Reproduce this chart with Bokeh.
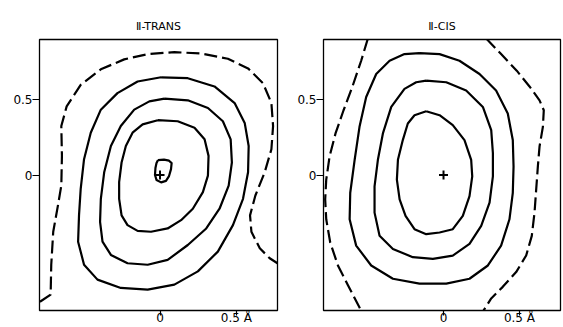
from bokeh.plotting import figure
from bokeh.layouts import row
from bokeh.models import Range1d, FixedTicker
from bokeh.embed import file_html
from bokeh.resources import INLINE

# ---------------- data (in Å) ----------------
panel_titles = ["Ⅱ-TRANS", "Ⅱ-CIS"]
x_ticks = [0, 0.5]
y_ticks = [0, 0.5]
x_tick_labels = {0: "0", 0.5: "0.5 Å"}
y_tick_labels = {0: "0", 0.5: "0.5"}
center_x = [0.0]
center_y = [0.0]

# II-TRANS solid contours (inner -> outer)
trans_c0_x = [-0.013, 0.026, 0.059, 0.076, 0.072, 0.059, 0.039, 0.007, -0.023, -0.033, -0.030, -0.023, -0.013]
trans_c0_y = [0.099, 0.102, 0.095, 0.079, 0.039, -0.007, -0.039, -0.049, -0.033, 0.000, 0.046, 0.079, 0.099]
trans_c1_x = [-0.015, 0.116, 0.226, 0.292, 0.318, 0.314, 0.281, 0.215, 0.138, 0.050, -0.059, -0.147, -0.213, -0.252, -0.268, -0.268, -0.252, -0.224, -0.180, -0.114, -0.015]
trans_c1_y = [0.364, 0.357, 0.314, 0.237, 0.127, -0.004, -0.114, -0.224, -0.300, -0.355, -0.377, -0.371, -0.333, -0.268, -0.158, -0.048, 0.083, 0.193, 0.281, 0.336, 0.364]
trans_c2_x = [0.029, 0.182, 0.314, 0.412, 0.463, 0.471, 0.450, 0.390, 0.303, 0.182, 0.050, -0.081, -0.213, -0.322, -0.377, -0.393, -0.388, -0.366, -0.322, -0.257, -0.169, -0.070, 0.029]
trans_c2_y = [0.507, 0.496, 0.445, 0.357, 0.237, 0.083, -0.070, -0.224, -0.355, -0.465, -0.564, -0.596, -0.586, -0.531, -0.443, -0.311, -0.158, 0.018, 0.193, 0.325, 0.434, 0.489, 0.507]
trans_c3_x = [0.007, 0.182, 0.357, 0.489, 0.555, 0.581, 0.577, 0.544, 0.478, 0.379, 0.248, 0.094, -0.081, -0.257, -0.410, -0.498, -0.537, -0.531, -0.520, -0.498, -0.454, -0.388, -0.279, -0.147, 0.007]
trans_c3_y = [0.649, 0.643, 0.588, 0.478, 0.346, 0.193, 0.018, -0.158, -0.333, -0.509, -0.640, -0.728, -0.761, -0.750, -0.695, -0.596, -0.443, -0.268, -0.092, 0.105, 0.281, 0.434, 0.544, 0.621, 0.649]
# II-TRANS dashed contour
trans_d0_x = [-0.787, -0.717, -0.713, -0.700, -0.669, -0.647, -0.643, -0.647, -0.612, -0.520, -0.388, -0.235, -0.081, 0.094, 0.270, 0.445, 0.577, 0.675, 0.730, 0.741, 0.730, 0.686, 0.625, 0.590, 0.599, 0.654, 0.719, 0.785]
trans_d0_y = [-0.842, -0.794, -0.596, -0.377, -0.202, -0.070, 0.127, 0.325, 0.456, 0.599, 0.702, 0.768, 0.803, 0.816, 0.807, 0.772, 0.708, 0.610, 0.478, 0.325, 0.171, 0.018, -0.136, -0.268, -0.377, -0.487, -0.553, -0.596]

# II-CIS solid contours (inner -> outer)
cis_c1_x = [-0.114, -0.026, 0.061, 0.138, 0.182, 0.189, 0.171, 0.127, 0.061, -0.026, -0.114, -0.191, -0.250, -0.289, -0.307, -0.300, -0.268, -0.235, -0.191, -0.114]
cis_c1_y = [0.423, 0.397, 0.331, 0.232, 0.101, -0.009, -0.140, -0.272, -0.360, -0.382, -0.393, -0.360, -0.272, -0.162, -0.031, 0.101, 0.232, 0.342, 0.397, 0.423]
cis_c2_x = [-0.114, 0.018, 0.149, 0.259, 0.314, 0.325, 0.325, 0.303, 0.248, 0.171, 0.061, -0.070, -0.202, -0.333, -0.421, -0.454, -0.454, -0.432, -0.399, -0.344, -0.257, -0.180, -0.114]
cis_c2_y = [0.627, 0.616, 0.561, 0.452, 0.298, 0.145, -0.009, -0.184, -0.338, -0.458, -0.535, -0.557, -0.546, -0.491, -0.404, -0.250, -0.075, 0.101, 0.276, 0.452, 0.572, 0.616, 0.627]
cis_c3_x = [-0.158, -0.026, 0.105, 0.237, 0.346, 0.423, 0.456, 0.461, 0.456, 0.434, 0.379, 0.292, 0.171, 0.018, -0.158, -0.333, -0.476, -0.575, -0.618, -0.614, -0.585, -0.553, -0.509, -0.443, -0.355, -0.257, -0.158]
cis_c3_y = [0.809, 0.803, 0.759, 0.671, 0.561, 0.408, 0.232, 0.057, -0.118, -0.294, -0.469, -0.601, -0.689, -0.721, -0.721, -0.689, -0.601, -0.469, -0.294, -0.118, 0.101, 0.320, 0.518, 0.671, 0.759, 0.803, 0.809]
# II-CIS dashed contours (left and right branches)
cis_d0_x = [-0.498, -0.542, -0.601, -0.658, -0.711, -0.750, -0.772, -0.779, -0.772, -0.746, -0.695, -0.629, -0.542]
cis_d0_y = [0.906, 0.759, 0.583, 0.430, 0.276, 0.123, -0.031, -0.162, -0.294, -0.447, -0.601, -0.732, -0.901]
cis_d1_x = [0.281, 0.379, 0.482, 0.566, 0.632, 0.660, 0.654, 0.632, 0.621, 0.610, 0.599, 0.581, 0.544, 0.478, 0.390, 0.314, 0.263]
cis_d1_y = [0.906, 0.803, 0.693, 0.588, 0.496, 0.430, 0.320, 0.189, 0.057, -0.096, -0.250, -0.404, -0.535, -0.645, -0.743, -0.820, -0.901]

X_RANGE = (-0.79, 0.77)
Y_RANGE = (-0.9, 0.9)

FONT = "DejaVu Sans"


def make_panel(title, solids, dashed, width, border_left, border_right):
    p = figure(width=width, height=327,
               x_range=Range1d(*X_RANGE), y_range=Range1d(*Y_RANGE),
               output_backend="svg", toolbar_location=None,
               min_border_left=border_left, min_border_right=border_right,
               min_border_top=39, min_border_bottom=14)
    p.title.text = title
    p.title.align = "center"
    p.title.vertical_align = "top"
    p.title.text_font = FONT
    p.title.text_font_size = "11px"
    p.title.text_font_style = "normal"
    p.title.text_color = "black"
    p.title.standoff = 10

    p.xgrid.visible = False
    p.ygrid.visible = False
    p.outline_line_color = "black"
    p.outline_line_width = 1.3
    p.outline_line_alpha = 1.0
    p.background_fill_color = "white"
    p.border_fill_color = "white"

    for ax in (p.xaxis[0], p.yaxis[0]):
        ax.axis_line_color = None
        ax.minor_tick_line_color = None
        ax.major_tick_in = 0
        ax.major_tick_line_color = "black"
        ax.major_tick_line_width = 1.2
        ax.major_label_text_font = FONT
        ax.major_label_text_font_size = "12px"
        ax.major_label_text_color = "black"

    p.xaxis.ticker = FixedTicker(ticks=x_ticks)
    p.xaxis.major_label_overrides = x_tick_labels
    p.xaxis.major_tick_out = 5
    p.xaxis.major_label_text_align = "left"
    p.xaxis.major_label_text_line_height = 0.8
    p.xaxis.major_label_standoff = -5

    p.yaxis.ticker = FixedTicker(ticks=y_ticks)
    p.yaxis.major_label_overrides = y_tick_labels
    p.yaxis.major_tick_out = 7
    p.yaxis.major_label_standoff = 0
    p.yaxis.major_label_text_baseline = "alphabetic"

    for xs, ys in solids:
        p.line(xs, ys, line_color="black", line_width=2.2, line_join="round")
    for xs, ys in dashed:
        p.line(xs, ys, line_color="black", line_width=2.2, line_dash="13 5",
               line_join="round")
    p.scatter(center_x, center_y, marker="cross", size=9, line_color="black",
              line_width=2)
    return p


p1 = make_panel(panel_titles[0],
                [(trans_c0_x, trans_c0_y), (trans_c1_x, trans_c1_y),
                 (trans_c2_x, trans_c2_y), (trans_c3_x, trans_c3_y)],
                [(trans_d0_x, trans_d0_y)],
                width=290, border_left=39, border_right=13)
p2 = make_panel(panel_titles[1],
                [(cis_c1_x, cis_c1_y), (cis_c2_x, cis_c2_y), (cis_c3_x, cis_c3_y)],
                [(cis_d0_x, cis_d0_y), (cis_d1_x, cis_d1_y)],
                width=273, border_left=33, border_right=3)

layout = row(p1, p2)
open("out.html", "w").write(file_html(layout, INLINE))
